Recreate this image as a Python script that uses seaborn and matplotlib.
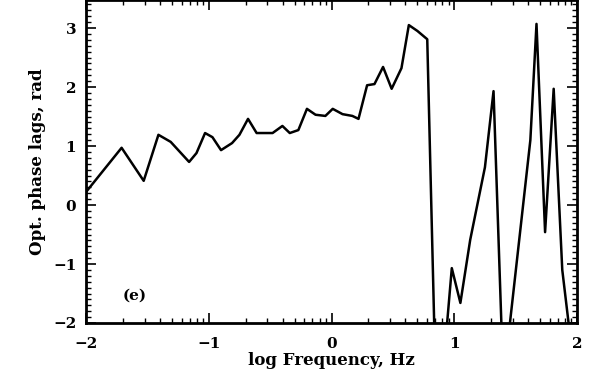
import matplotlib
matplotlib.use("Agg")
import matplotlib.pyplot as plt
import seaborn as sns
import numpy as np
import pandas as pd
from matplotlib.ticker import FixedLocator, MultipleLocator

log_freq = [-2.00, -1.71, -1.53, -1.41, -1.31, -1.16, -1.10, -1.03, -0.97, -0.90,
            -0.81, -0.75, -0.68, -0.61, -0.48, -0.40, -0.34, -0.27, -0.20, -0.13,
            -0.05, 0.01, 0.09, 0.17, 0.22, 0.29, 0.35, 0.42, 0.49, 0.57,
            0.63, 0.70, 0.78, 0.86, 0.98, 1.05, 1.13, 1.25, 1.32, 1.40,
            1.62, 1.67, 1.74, 1.81, 1.88, 1.96]
phase_lag = [0.22, 0.97, 0.41, 1.19, 1.07, 0.73, 0.88, 1.22, 1.15, 0.93,
             1.05, 1.19, 1.46, 1.22, 1.22, 1.34, 1.22, 1.27, 1.63, 1.53,
             1.51, 1.63, 1.54, 1.51, 1.46, 2.03, 2.05, 2.34, 1.97, 2.32,
             3.05, 2.95, 2.81, -4.0, -1.07, -1.66, -0.59, 0.64, 1.93, -3.0,
             1.10, 3.07, -0.46, 1.97, -1.10, -2.5]

xticks = [-2, -1, 0, 1, 2]
yticks = [-2, -1, 0, 1, 2, 3]

df = pd.DataFrame({"x": log_freq, "y": phase_lag})

sns.set_style("ticks")
plt.rcParams['font.family'] = ['DejaVu Serif']
plt.rcParams['font.weight'] = 'bold'
for k in ['text.color', 'axes.labelcolor', 'xtick.color', 'ytick.color', 'axes.edgecolor']:
    plt.rcParams[k] = 'black'

fig = plt.figure(figsize=(5.98, 3.77), dpi=100)
ax = fig.add_axes([86/598, 1 - 323/377, (577 - 86)/598, 323/377])

sns.lineplot(data=df, x="x", y="y", ax=ax, color="black", linewidth=1.8,
             sort=False, estimator=None)

ax.set_xlim(-2, 2)
ax.set_ylim(-2, 3.475)
ax.set_xticks(xticks)
ax.set_yticks(yticks)
ax.set_xticklabels(["\u22122", "\u22121", "0", "1", "2"], fontsize=11, fontweight='bold')
ax.set_yticklabels(["\u22122", "\u22121", "0", "1", "2", "3"], fontsize=11, fontweight='bold')

minor_x = []
for d in [-2, -1, 0, 1]:
    for m in range(2, 10):
        minor_x.append(d + np.log10(m))
ax.xaxis.set_minor_locator(FixedLocator(minor_x))
ax.yaxis.set_minor_locator(MultipleLocator(0.1))

ax.tick_params(axis="x", which="major", direction="in", length=7, width=1.2,
               top=True, right=True, pad=10)
ax.tick_params(axis="y", which="major", direction="in", length=7, width=1.2,
               top=True, right=True, pad=7)
ax.tick_params(which="minor", direction="in", length=3.5, width=1.0,
               top=True, right=True)
for s in ax.spines.values():
    s.set_linewidth(2.0)
    s.set_visible(True)

ax.set_xlabel("log Frequency, Hz", fontsize=12, fontweight='bold', labelpad=1)
ax.set_ylabel("Opt. phase lags, rad", fontsize=12, fontweight='bold', labelpad=5)
ax.text(-1.70, -1.53, "(e)", fontsize=11, fontweight='bold', ha="left", va="center")

fig.savefig("out.png", dpi=100)
